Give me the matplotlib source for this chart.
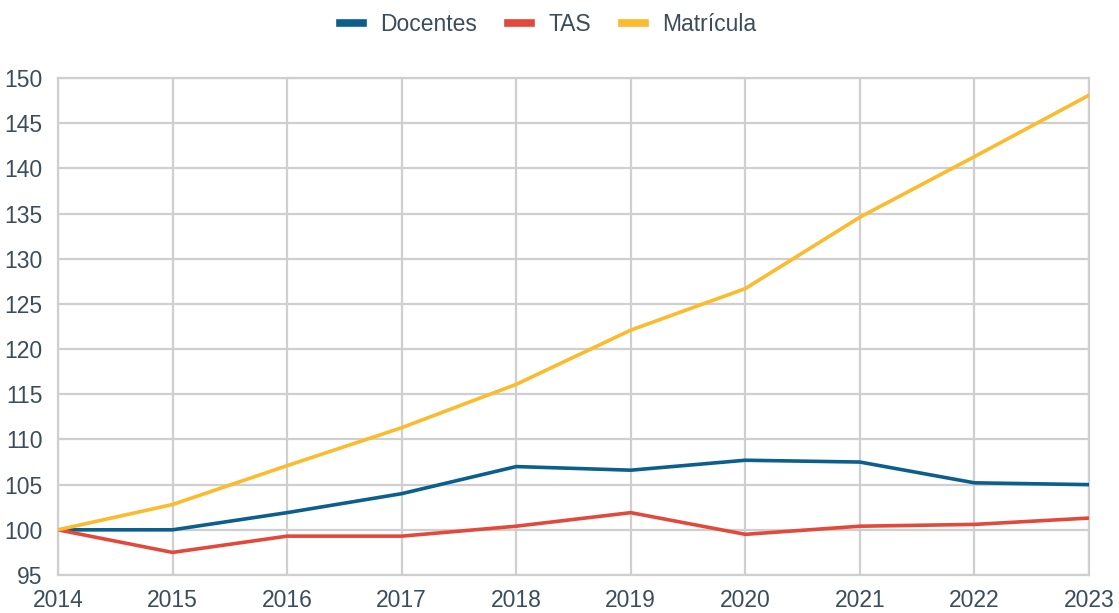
import matplotlib.pyplot as plt

years = [2014, 2015, 2016, 2017, 2018, 2019, 2020, 2021, 2022, 2023]
docentes = [100, 100, 101.9, 104.0, 107.0, 106.6, 107.7, 107.5, 105.2, 105.0]
tas = [100, 97.5, 99.3, 99.3, 100.4, 101.9, 99.5, 100.4, 100.6, 101.3]
matricula = [100, 102.8, 107.1, 111.3, 116.1, 122.1, 126.7, 134.6, 141.3, 148.1]

text_color = '#3b4d5a'
grid_color = '#cfcfcf'

plt.rcParams['font.family'] = ['Liberation Sans', 'DejaVu Sans']

fig = plt.figure(figsize=(11.19, 6.13), dpi=100)
ax = fig.add_axes([0.0518, 0.062, 0.9214, 0.8107])

ax.plot(years, docentes, color='#0b5f8d', lw=2.6, label='Docentes', zorder=3)
ax.plot(years, tas, color='#e2493a', lw=2.6, label='TAS', zorder=3)
ax.plot(years, matricula, color='#fbbb2d', lw=2.6, label='Matrícula', zorder=3)

ax.set_xlim(2014, 2023)
ax.set_ylim(95, 150)
ax.set_xticks(years)
ax.set_yticks(range(95, 151, 5))
ax.grid(True, color=grid_color, lw=1.6)
ax.set_axisbelow(True)
for s in ax.spines.values():
    s.set_color(grid_color)
    s.set_linewidth(1.6)
ax.tick_params(length=0, labelsize=16.5, colors=text_color)
ax.tick_params(axis='x', pad=10)
ax.tick_params(axis='y', pad=11)

leg = fig.legend(loc='upper center', bbox_to_anchor=(0.49, 1.012), ncol=3, frameon=False,
                 fontsize=16.5, handlelength=1.0, columnspacing=1.35, handletextpad=0.75)
for h in leg.get_lines():
    h.set_linewidth(5.5)
for t in leg.get_texts():
    t.set_color(text_color)

fig.savefig('out.png', dpi=100)
